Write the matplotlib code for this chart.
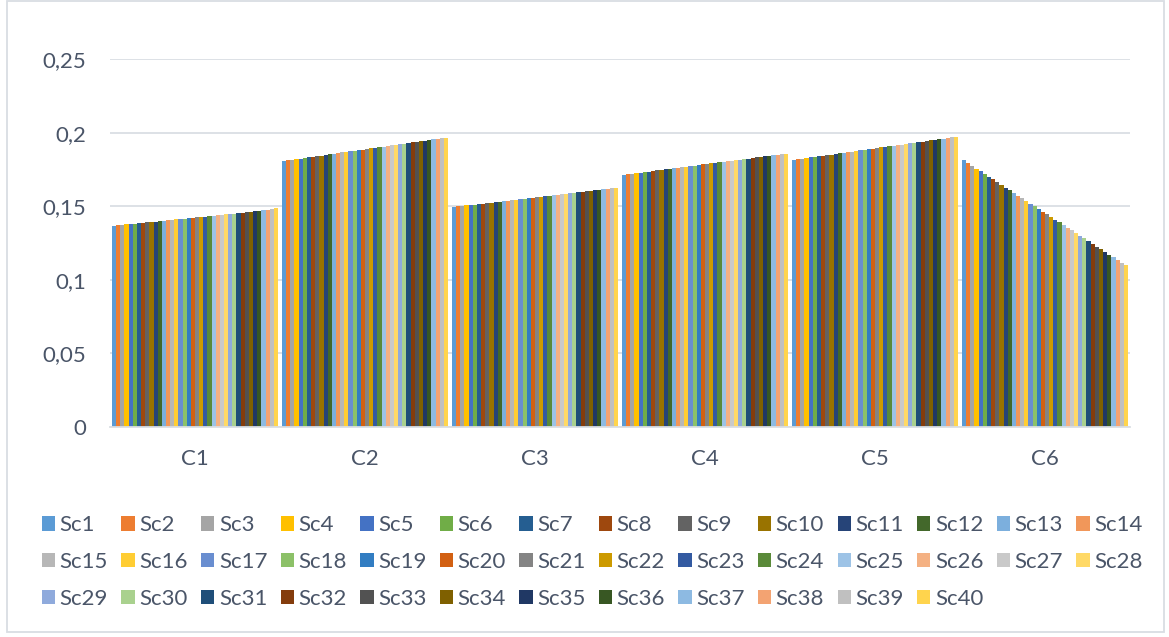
import matplotlib
matplotlib.use("Agg")
import matplotlib.pyplot as plt
import numpy as np
from matplotlib.patches import Rectangle

plt.rcParams['font.family'] = ['Lato', 'DejaVu Sans']

categories = ["C1", "C2", "C3", "C4", "C5", "C6"]
series_names = ["Sc%d" % i for i in range(1, 41)]

# value of each series (Sc1..Sc40) inside every category
c1_values = [0.1366, 0.1370, 0.1372, 0.1376, 0.1378, 0.1380, 0.1383, 0.1386, 0.1390, 0.1393,
             0.1396, 0.1399, 0.1402, 0.1405, 0.1407, 0.1410, 0.1413, 0.1416, 0.1419, 0.1422,
             0.1425, 0.1427, 0.1430, 0.1433, 0.1436, 0.1439, 0.1441, 0.1444, 0.1447, 0.1450,
             0.1453, 0.1457, 0.1459, 0.1461, 0.1465, 0.1468, 0.1472, 0.1477, 0.1481, 0.1488]
c2_values = [0.1808, 0.1812, 0.1816, 0.1820, 0.1824, 0.1828, 0.1832, 0.1836, 0.1840, 0.1844,
             0.1848, 0.1853, 0.1857, 0.1861, 0.1865, 0.1869, 0.1873, 0.1877, 0.1881, 0.1885,
             0.1889, 0.1893, 0.1897, 0.1901, 0.1905, 0.1909, 0.1913, 0.1917, 0.1921, 0.1925,
             0.1929, 0.1933, 0.1937, 0.1941, 0.1945, 0.1949, 0.1954, 0.1958, 0.1962, 0.1966]
c3_values = [0.1495, 0.1498, 0.1501, 0.1505, 0.1508, 0.1511, 0.1515, 0.1518, 0.1521, 0.1525,
             0.1528, 0.1531, 0.1535, 0.1538, 0.1541, 0.1545, 0.1548, 0.1551, 0.1554, 0.1558,
             0.1561, 0.1564, 0.1568, 0.1571, 0.1574, 0.1578, 0.1581, 0.1584, 0.1588, 0.1591,
             0.1594, 0.1598, 0.1601, 0.1604, 0.1608, 0.1611, 0.1614, 0.1617, 0.1621, 0.1624]
c4_values = [0.1713, 0.1717, 0.1720, 0.1724, 0.1728, 0.1732, 0.1735, 0.1739, 0.1743, 0.1746,
             0.1750, 0.1754, 0.1758, 0.1761, 0.1765, 0.1769, 0.1772, 0.1776, 0.1780, 0.1784,
             0.1787, 0.1791, 0.1795, 0.1798, 0.1802, 0.1806, 0.1810, 0.1813, 0.1817, 0.1821,
             0.1824, 0.1828, 0.1832, 0.1836, 0.1839, 0.1843, 0.1847, 0.1850, 0.1854, 0.1858]
c5_values = [0.1815, 0.1819, 0.1823, 0.1827, 0.1831, 0.1835, 0.1839, 0.1843, 0.1847, 0.1851,
             0.1855, 0.1859, 0.1863, 0.1867, 0.1871, 0.1875, 0.1879, 0.1883, 0.1887, 0.1891,
             0.1895, 0.1899, 0.1903, 0.1907, 0.1911, 0.1915, 0.1919, 0.1923, 0.1927, 0.1931,
             0.1935, 0.1939, 0.1943, 0.1947, 0.1951, 0.1955, 0.1959, 0.1963, 0.1967, 0.1971]
c6_values = [0.1815, 0.1794, 0.1774, 0.1753, 0.1740, 0.1720, 0.1699, 0.1685, 0.1665, 0.1645,
             0.1624, 0.1611, 0.1590, 0.1570, 0.1556, 0.1536, 0.1515, 0.1502, 0.1481, 0.1461,
             0.1447, 0.1427, 0.1406, 0.1393, 0.1372, 0.1352, 0.1338, 0.1318, 0.1298, 0.1284,
             0.1264, 0.1243, 0.1223, 0.1209, 0.1189, 0.1168, 0.1155, 0.1134, 0.1114, 0.1100]

series_colors = ["#5B9BD5", "#ED7D31", "#A5A5A5", "#FFC000", "#4472C4", "#70AD47",
                 "#255E91", "#9E480E", "#636363", "#997300", "#264478", "#43682B",
                 "#7CAFDD", "#F1975A", "#B7B7B7", "#FFCD33", "#698ED0", "#8CC168",
                 "#327DC2", "#D26012", "#848484", "#CC9A00", "#335AA1", "#5A8A39",
                 "#9DC3E6", "#F4B183", "#C9C9C9", "#FFD966", "#8FAADC", "#A9D18E",
                 "#1F4E79", "#843C0C", "#525252", "#7F6000", "#203864", "#385723",
                 "#8DBAE2", "#F3A372", "#C0C0C0", "#FFD44D"]

y_ticks = [0, 0.05, 0.1, 0.15, 0.2, 0.25]
y_tick_labels = ["0", "0,05", "0,1", "0,15", "0,2", "0,25"]

text_color = "#4a5568"
grid_color = "#dadee4"

W, H = 1169, 637
fig = plt.figure(figsize=(W / 100, H / 100), dpi=100)
fig.patches.append(Rectangle((7 / W, 5 / H), 1157 / W, 631 / H, transform=fig.transFigure,
                             fill=False, edgecolor="#d9dde3", linewidth=1.3))

ax = fig.add_axes([110 / W, (H - 427) / H, 1020 / W, 368 / H])

table = np.array([c1_values, c2_values, c3_values, c4_values, c5_values, c6_values])
x = np.arange(len(categories))
n = len(series_names)
group = 0.976
w = group / n

handles = []
for j, name in enumerate(series_names):
    bars = ax.bar(x + (j - (n - 1) / 2) * w, table[:, j], w, color=series_colors[j],
                  label=name, linewidth=0, zorder=3)
    handles.append(bars)

ax.set_xlim(-0.5, len(categories) - 0.5)
ax.set_ylim(0, 0.25)
ax.set_yticks(y_ticks)
ax.set_yticklabels(y_tick_labels)
ax.set_xticks(x)
ax.set_xticklabels(categories)
ax.tick_params(axis="y", length=0, pad=17, labelsize=16, labelcolor=text_color)
ax.tick_params(axis="x", length=0, pad=16, labelsize=16, labelcolor=text_color)
ax.grid(axis="y", color=grid_color, linewidth=1.3, zorder=0)
for side in ["top", "right", "left"]:
    ax.spines[side].set_visible(False)
ax.spines["bottom"].set_color(grid_color)
ax.spines["bottom"].set_linewidth(1.3)
ax.spines["bottom"].set_zorder(4)

# excel fills legend rows first, matplotlib fills columns first
ncol = 14
order = []
for c in range(ncol):
    for r in range(3):
        k = r * ncol + c
        if k < n:
            order.append(k)
fig.legend([handles[k] for k in order], [series_names[k] for k in order],
           ncol=ncol, loc="center left", bbox_to_anchor=(42 / W, (H - 562) / H),
           frameon=False, fontsize=16, labelcolor=text_color,
           handlelength=0.6, handleheight=0.6, handletextpad=0.2,
           columnspacing=0.60, labelspacing=0.75, borderpad=0, borderaxespad=0)

fig.savefig("out.png", dpi=100)
